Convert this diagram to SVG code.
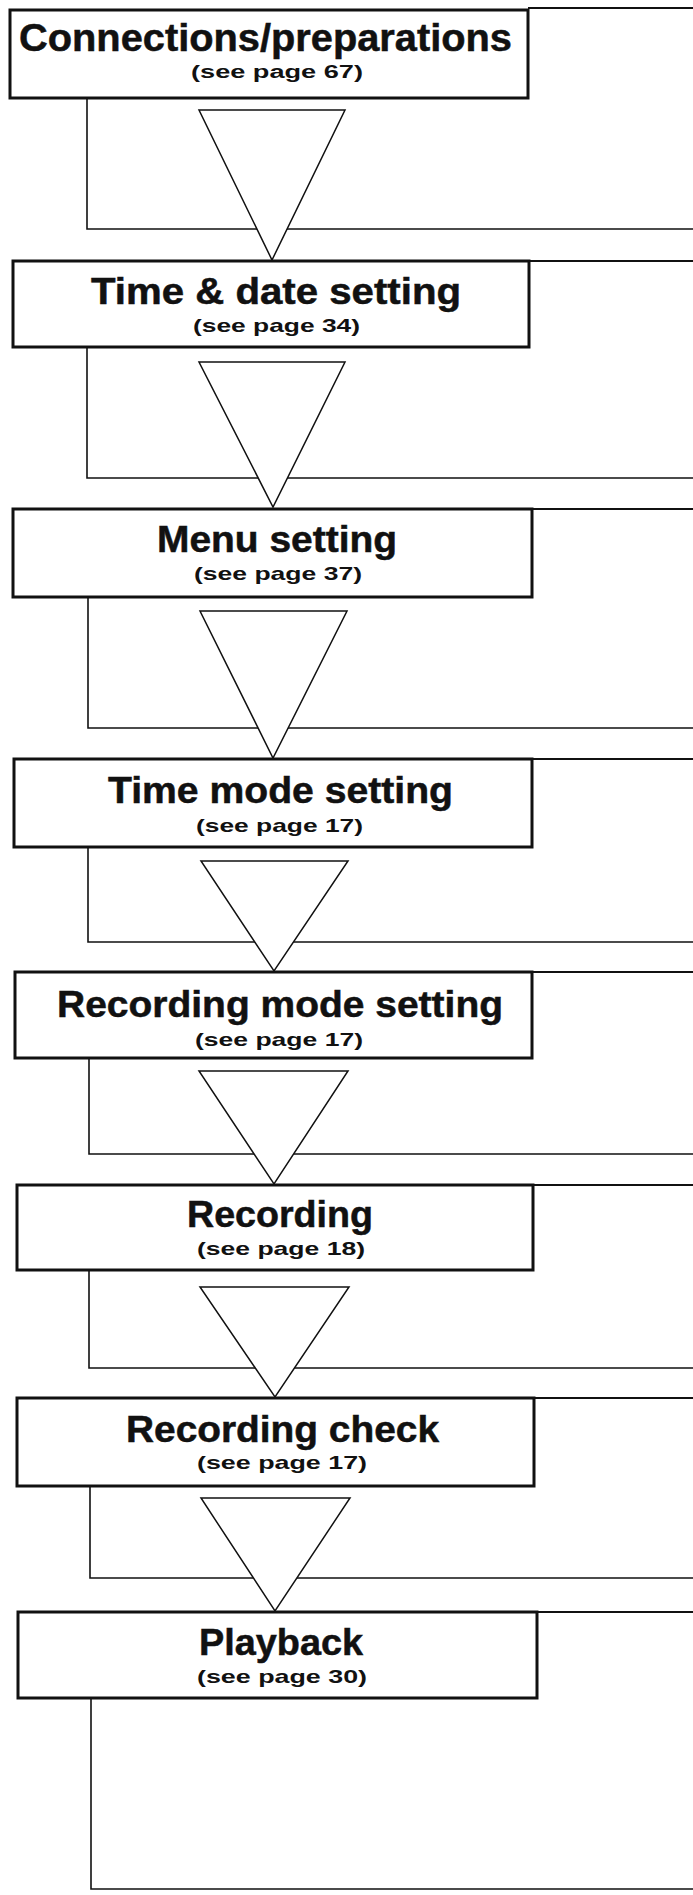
<svg xmlns="http://www.w3.org/2000/svg" width="693" height="1895" viewBox="0 0 693 1895">
<style>
.bg{fill:#ffffff}
.box{fill:#ffffff;stroke:#111;stroke-width:3}
.ln{fill:none;stroke:#111;stroke-width:1.6}
.ext{fill:none;stroke:#111;stroke-width:1.8}
.tri{fill:#ffffff;stroke:#111;stroke-width:1.5;stroke-linejoin:miter}
.t{font-family:"Liberation Sans",Arial,sans-serif;font-weight:bold;font-size:36px;fill:#111;stroke:#111;stroke-width:0.5}
.s{font-family:"Liberation Sans",Arial,sans-serif;font-weight:bold;font-size:19px;fill:#111}
</style>
<rect class="bg" x="0" y="0" width="693" height="1895"/>
<g id="connectors">
  <path class="ln" d="M87 98 V229 H693"/>
  <path class="ln" d="M87 347 V478 H693"/>
  <path class="ln" d="M88 597 V728 H693"/>
  <path class="ln" d="M88 847 V942 H693"/>
  <path class="ln" d="M89 1058 V1154 H693"/>
  <path class="ln" d="M89 1270 V1368 H693"/>
  <path class="ln" d="M90 1486 V1578 H693"/>
  <path class="ln" d="M91 1698 V1889 H693"/>
  <path class="ext" d="M528 8 H693"/>
  <path class="ext" d="M529 261 H693"/>
  <path class="ext" d="M532 509 H693"/>
  <path class="ext" d="M532 759 H693"/>
  <path class="ext" d="M532 972 H693"/>
  <path class="ext" d="M533 1185 H693"/>
  <path class="ext" d="M534 1398 H693"/>
  <path class="ext" d="M537 1612 H693"/>
  <polygon class="tri" points="199,110 345,110 272,260"/>
  <polygon class="tri" points="199,362 345,362 273,507"/>
  <polygon class="tri" points="200,611 347,611 273,758"/>
  <polygon class="tri" points="201,861 348,861 274,971"/>
  <polygon class="tri" points="199,1071 348,1071 274,1184"/>
  <polygon class="tri" points="200,1287 349,1287 275,1397"/>
  <polygon class="tri" points="201,1498 350,1498 275,1611"/>
</g>
<g id="node-connections">
  <rect class="box" x="10" y="10" width="518" height="88"/>
  <text class="t" x="19" y="51" textLength="493" lengthAdjust="spacingAndGlyphs" style="font-size:38px">Connections/preparations</text>
  <text class="s" x="191" y="78" textLength="172" lengthAdjust="spacingAndGlyphs" style="font-size:18px">(see page 67)</text>
</g>
<g id="node-time-date">
  <rect class="box" x="13" y="261" width="516" height="86"/>
  <text class="t" x="91" y="304" textLength="370" lengthAdjust="spacingAndGlyphs">Time &amp; date setting</text>
  <text class="s" x="193" y="332" textLength="167" lengthAdjust="spacingAndGlyphs">(see page 34)</text>
</g>
<g id="node-menu">
  <rect class="box" x="13" y="509" width="519" height="88"/>
  <text class="t" x="157" y="552" textLength="240" lengthAdjust="spacingAndGlyphs">Menu setting</text>
  <text class="s" x="194" y="580" textLength="168" lengthAdjust="spacingAndGlyphs">(see page 37)</text>
</g>
<g id="node-time-mode">
  <rect class="box" x="14" y="759" width="518" height="88"/>
  <text class="t" x="108" y="803" textLength="345" lengthAdjust="spacingAndGlyphs">Time mode setting</text>
  <text class="s" x="196" y="832" textLength="167" lengthAdjust="spacingAndGlyphs">(see page 17)</text>
</g>
<g id="node-recording-mode">
  <rect class="box" x="15" y="972" width="517" height="86"/>
  <text class="t" x="57" y="1017" textLength="446" lengthAdjust="spacingAndGlyphs">Recording mode setting</text>
  <text class="s" x="195" y="1046" textLength="168" lengthAdjust="spacingAndGlyphs">(see page 17)</text>
</g>
<g id="node-recording">
  <rect class="box" x="17" y="1185" width="516" height="85"/>
  <text class="t" x="187" y="1227" textLength="186" lengthAdjust="spacingAndGlyphs">Recording</text>
  <text class="s" x="197" y="1255" textLength="168" lengthAdjust="spacingAndGlyphs">(see page 18)</text>
</g>
<g id="node-recording-check">
  <rect class="box" x="17" y="1398" width="517" height="88"/>
  <text class="t" x="126" y="1442" textLength="313" lengthAdjust="spacingAndGlyphs">Recording check</text>
  <text class="s" x="197" y="1469" textLength="170" lengthAdjust="spacingAndGlyphs">(see page 17)</text>
</g>
<g id="node-playback">
  <rect class="box" x="18" y="1612" width="519" height="86"/>
  <text class="t" x="199" y="1655" textLength="164" lengthAdjust="spacingAndGlyphs">Playback</text>
  <text class="s" x="197" y="1683" textLength="170" lengthAdjust="spacingAndGlyphs">(see page 30)</text>
</g>
</svg>
